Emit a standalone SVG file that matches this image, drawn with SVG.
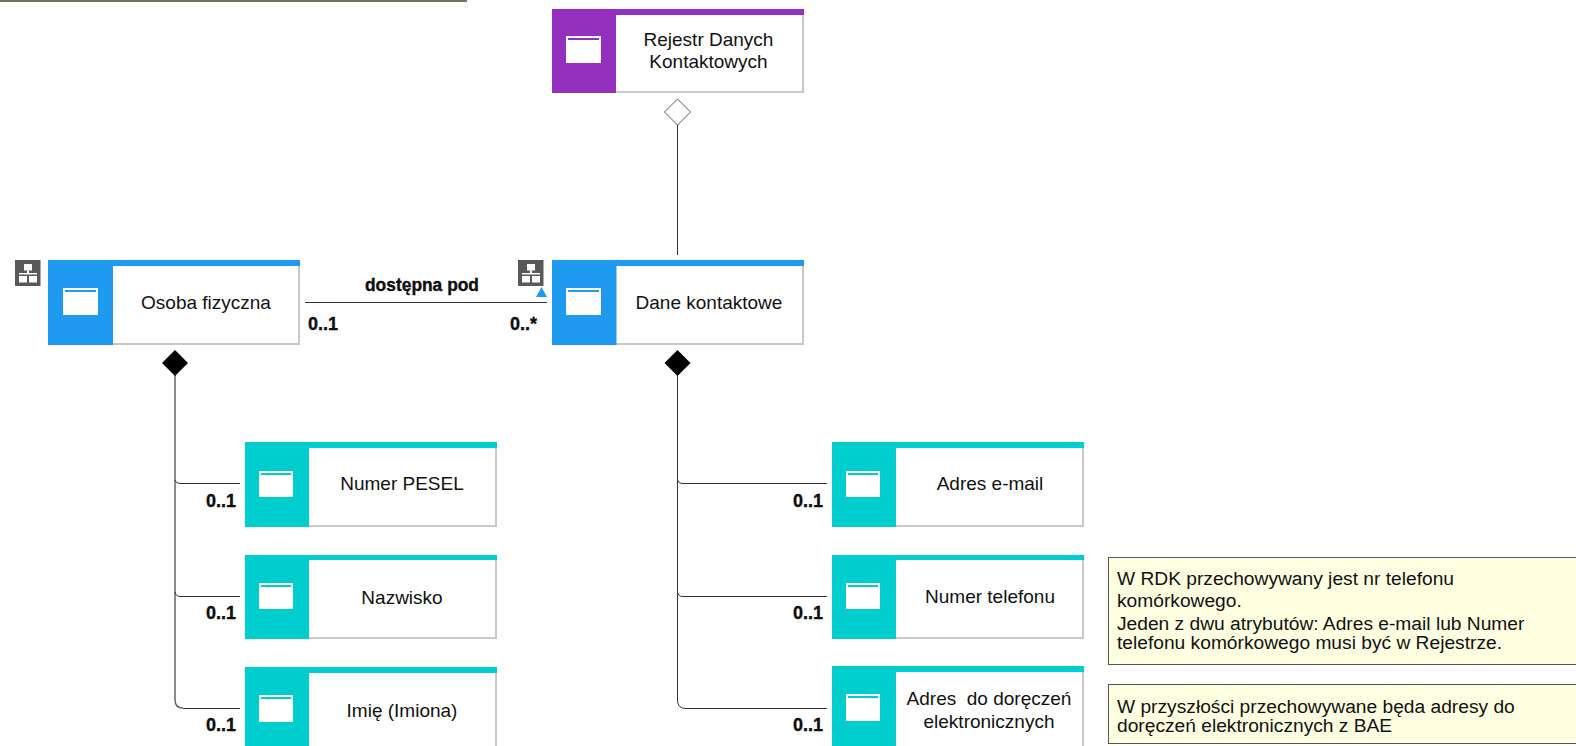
<svg xmlns="http://www.w3.org/2000/svg" width="1576" height="746" viewBox="0 0 1576 746">
<style>
text{font-family:"Liberation Sans",Arial,sans-serif;fill:#111}
.t{font-size:19px;text-anchor:middle}
.m{font-size:18px;font-weight:bold;stroke:#000;stroke-width:.35px}
.n{font-size:19.2px}
.b{fill:#fff;stroke:#c8c8c8;stroke-width:2}
.c{fill:none;stroke:#333;stroke-width:1}
.w{fill:#fff}
</style>
<defs>
<g id="hier"><rect width="25.500" height="26" fill="#595959"/><rect x="9" y="4" width="8" height="6.500" fill="#fff"/><rect x="12" y="10.500" width="2" height="3" fill="#fff"/><rect x="4" y="13" width="18" height="1.500" fill="#fff"/><rect x="4" y="16" width="8" height="6.500" fill="#fff"/><rect x="14" y="16" width="8" height="6.500" fill="#fff"/></g>
</defs>
<rect width="1576" height="746" fill="#fff"/>
<rect x="0" y="0" width="467" height="2" fill="#6d7263"/>
<g id="connectors">
<path class="c" d="M677.500 124V255"/>
<path d="M677.500 99L690.500 112L677.500 125L664.500 112Z" fill="#fff" stroke="#555" stroke-width="1"/>
<path class="c" d="M305 302.500H547"/>
<path d="M541.500 287L547 297H536Z" fill="#1e9bf0"/>
<path d="M175 370V700Q175 708 183 708" fill="none" stroke="#666" stroke-width="1.500"/>
<path class="c" d="M183 708.500H240M175 480Q176 483.500 180 483.500H240M175 592Q176 596.500 180 596.500H240"/>
<path d="M175 350L188 363L175 376L162 363Z" fill="#000"/>
<path class="c" d="M677.500 370V700Q677.500 708.500 686 708.500H827M677.500 480Q678.500 483.500 682 483.500H827M677.500 592Q678.500 596.500 682 596.500H827"/>
<path d="M677.500 350L690.500 363L677.500 376L664.500 363Z" fill="#000"/>
</g>
<g id="conn-labels">
<text x="422" y="291" class="m" text-anchor="middle" textLength="114" lengthAdjust="spacingAndGlyphs">dostępna pod</text>
<text x="308" y="330" class="m">0..1</text>
<text x="510" y="330" class="m">0..*</text>
<text x="206" y="507" class="m">0..1</text>
<text x="206" y="619" class="m">0..1</text>
<text x="206" y="731" class="m">0..1</text>
<text x="793" y="507" class="m">0..1</text>
<text x="793" y="619" class="m">0..1</text>
<text x="793" y="731" class="m">0..1</text>
</g>
<g id="rejestr"><rect x="553" y="10" width="250" height="82" class="b"/><rect x="552" y="9" width="252" height="6" fill="#9430bd"/><rect x="552" y="9" width="64" height="84" fill="#9430bd"/><rect x="566" y="36" width="35" height="27" class="w"/><rect x="568" y="38" width="31" height="2" fill="#9430bd"/><text x="708.500" y="46" class="t">Rejestr Danych</text><text x="708.500" y="68" class="t">Kontaktowych</text></g>
<g id="osoba"><use href="#hier" x="15" y="260"/><rect x="49" y="261" width="250" height="83" class="b"/><rect x="48" y="260" width="252" height="6" fill="#1e9bf0"/><rect x="48" y="260" width="65" height="85" fill="#1e9bf0"/><rect x="63" y="288" width="35" height="27" class="w"/><rect x="65" y="290" width="31" height="2" fill="#1e9bf0"/><text x="206" y="309" class="t">Osoba fizyczna</text></g>
<g id="dane"><use href="#hier" x="518" y="260"/><rect x="553" y="261" width="250" height="83" class="b"/><rect x="552" y="260" width="252" height="6" fill="#1e9bf0"/><rect x="552" y="260" width="64.500" height="85" fill="#1e9bf0"/><rect x="566" y="288" width="35" height="27" class="w"/><rect x="568" y="290" width="31" height="2" fill="#1e9bf0"/><text x="709" y="309" class="t">Dane kontaktowe</text></g>
<g id="pesel"><rect x="246" y="443" width="250" height="83" class="b"/><rect x="245" y="442" width="252" height="6" fill="#00cdcd"/><rect x="245" y="442" width="64" height="85" fill="#00cdcd"/><rect x="259" y="471" width="34" height="26" class="w"/><rect x="261" y="473" width="30" height="2" fill="#00cdcd"/><text x="402" y="490" class="t">Numer PESEL</text></g>
<g id="nazwisko"><rect x="246" y="556" width="250" height="82" class="b"/><rect x="245" y="555" width="252" height="5" fill="#00cdcd"/><rect x="245" y="555" width="64" height="84" fill="#00cdcd"/><rect x="259" y="583" width="34" height="26" class="w"/><rect x="261" y="585" width="30" height="2" fill="#00cdcd"/><text x="402" y="604" class="t">Nazwisko</text></g>
<g id="imie"><rect x="246" y="668" width="250" height="90" class="b"/><rect x="245" y="667" width="252" height="6" fill="#00cdcd"/><rect x="245" y="667" width="64" height="79" fill="#00cdcd"/><rect x="259" y="695" width="34" height="27" class="w"/><rect x="261" y="697" width="30" height="2" fill="#00cdcd"/><text x="402" y="717" class="t">Imię (Imiona)</text></g>
<g id="email"><rect x="833" y="443" width="250" height="83" class="b"/><rect x="832" y="442" width="252" height="6" fill="#00cdcd"/><rect x="832" y="442" width="64" height="85" fill="#00cdcd"/><rect x="846" y="471" width="34" height="26" class="w"/><rect x="848" y="473" width="30" height="2" fill="#00cdcd"/><text x="990" y="490" class="t">Adres e-mail</text></g>
<g id="telefon"><rect x="833" y="556" width="250" height="82" class="b"/><rect x="832" y="555" width="252" height="5" fill="#00cdcd"/><rect x="832" y="555" width="64" height="84" fill="#00cdcd"/><rect x="846" y="583" width="34" height="26" class="w"/><rect x="848" y="585" width="30" height="2" fill="#00cdcd"/><text x="990" y="603" class="t">Numer telefonu</text></g>
<g id="adres"><rect x="833" y="667" width="250" height="90" class="b"/><rect x="832" y="666" width="252" height="6" fill="#00cdcd"/><rect x="832" y="666" width="64" height="80" fill="#00cdcd"/><rect x="846" y="694" width="34" height="27" class="w"/><rect x="848" y="696" width="30" height="2" fill="#00cdcd"/><text x="989" y="705" class="t" xml:space="preserve">Adres  do doręczeń</text><text x="989" y="728" class="t">elektronicznych</text></g>
<g id="note1"><rect x="1108.500" y="557.500" width="470" height="107" fill="#ffffe1" stroke="#555" stroke-width="1"/><text x="1117" y="585" class="n">W RDK przechowywany jest nr telefonu</text><text x="1117" y="607" class="n">komórkowego.</text><text x="1117" y="630" class="n">Jeden z dwu atrybutów: Adres e-mail lub Numer</text><text x="1117" y="649" class="n">telefonu komórkowego musi być w Rejestrze.</text></g>
<g id="note2"><rect x="1108.500" y="684.500" width="470" height="59" fill="#ffffe1" stroke="#555" stroke-width="1"/><text x="1117" y="713" class="n">W przyszłości przechowywane będa adresy do</text><text x="1117" y="732" class="n">doręczeń elektronicznych z BAE</text></g>
</svg>
